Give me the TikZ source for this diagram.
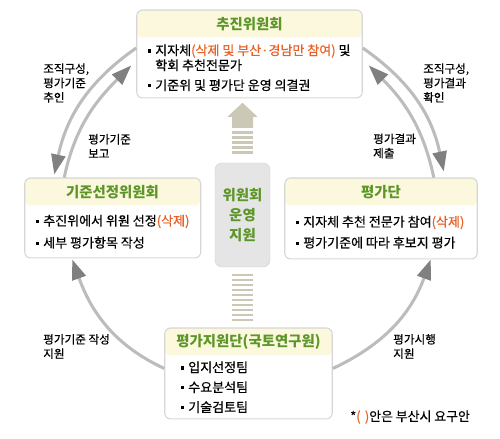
\documentclass[tikz,border=0pt]{standalone}
\usepackage{fontspec}
\setmainfont{Noto Sans CJK KR}[UprightFeatures={FakeBold=0.5}]
\usepackage{tikz}
\usetikzlibrary{arrows.meta,positioning,fit,calc,backgrounds}
\definecolor{leafgreen}{RGB}{92,150,40}
\definecolor{cutorange}{RGB}{232,98,40}
\definecolor{creamhead}{RGB}{251,248,222}
\definecolor{framegray}{RGB}{214,214,214}
\definecolor{arcgray}{RGB}{188,188,188}
\definecolor{tipgray}{RGB}{128,128,128}
\definecolor{hubgray}{RGB}{229,229,229}
\definecolor{stripetan}{RGB}{203,200,182}
\newcommand{\sq}{\rule[0.2em]{0.26em}{0.26em}\hspace{0.3em}}
\newcommand{\del}[1]{\textcolor{cutorange}{#1}}

\begin{document}
\begin{tikzpicture}[
x=0.03cm,y=0.03cm,
ttl/.style={minimum width=#1,minimum height=0.81cm,inner sep=0pt,font=\fontsize{12.3}{14}\selectfont\bfseries,text=leafgreen},
body/.style={minimum height=#1,inner xsep=0.33cm,inner ysep=0pt,align=left,font=\fontsize{11.1}{12.8}\selectfont},
frame/.style={draw=framegray,line width=0.9pt,rounded corners=5pt,fill=white,inner sep=0pt,
  path picture={\fill[creamhead] (path picture bounding box.north west) rectangle (#1);}},
hub/.style={draw=black!18,fill=hubgray,rounded corners=6pt,minimum width=1.65cm,minimum height=3.12cm,align=center,font=\fontsize{12.3}{17}\selectfont\bfseries,text=leafgreen},
lbl/.style={align=left,inner sep=0pt,anchor=west,font=\fontsize{9.9}{12.3}\selectfont},
arc/.style={arcgray,line width=2.6pt,-{Triangle[length=0.6cm,width=0.42cm,color=tipgray]}},
stripe/.style={fill=stripetan}
]
\useasboundingbox (0,0) rectangle (500,-438);

% four committees
\node[ttl=6.75cm,anchor=north] (hqt) at (249.5,-10) {추진위원회};
\node[body=1.8cm,below right=0pt and 0pt of hqt.south west] (hqb) {\sq 지자체\del{(삭제 및 부산·경남만 참여)} 및\\\hphantom{\sq}학회 추천전문가\\[4.2pt]\sq 기준위 및 평가단 운영 의결권};
\node[ttl=5.25cm,anchor=north] (critt) at (112.5,-178) {기준선정위원회};
\node[body=1.56cm,below right=0pt and 0pt of critt.south west] (critb) {\sq 추진위에서 위원 선정\del{(삭제)}\\[6pt]\sq 세부 평가항목 작성};
\node[ttl=5.76cm,anchor=north] (evalt) at (381,-178) {평가단};
\node[body=1.59cm,below right=0pt and 0pt of evalt.south west] (evalb) {\sq 지자체 추천 전문가 참여\del{(삭제)}\\[5pt]\sq 평가기준에 따라 후보지 평가};
\node[ttl=5.01cm,anchor=north] (suppt) at (248.5,-328) {평가지원단(국토연구원)};
\node[body=1.89cm,inner xsep=0.48cm,below right=0pt and 0pt of suppt.south west] (suppb) {\sq 입지선정팀\\[4.2pt]\sq 수요분석팀\\[4.2pt]\sq 기술검토팀};
\begin{scope}[on background layer]
\node[frame=hqt.south east,fit=(hqt)(hqb)] (hq) {};
\node[frame=critt.south east,fit=(critt)(critb)] (crit) {};
\node[frame=evalt.south east,fit=(evalt)(evalb)] (eval) {};
\node[frame=suppt.south east,fit=(suppt)(suppb)] (supp) {};
\end{scope}

% support in the middle
\node[hub] (hub) at (242.5,-215) {위원회\\운영\\지원};
\fill[stripe] ($(hub.north)+(0,60)$) -- ($(hub.north)+(15,46)$) -- ($(hub.north)+(10.5,46)$) -- ($(hub.north)+(10.5,35)$)
  -- ($(hub.north)+(-10.5,35)$) -- ($(hub.north)+(-10.5,46)$) -- ($(hub.north)+(-15,46)$) -- cycle;
\foreach \i in {0,...,4} \fill[stripe] ($(hub.north)+(-10.5,31.3-5*\i)$) rectangle +(21,-2.5);
\foreach \i in {0,...,9} \fill[stripe] ($(hub.south)+(-10.5,-6.3-5*\i)$) rectangle +(21,-2.5);

% arcs
\draw[arc] ($(hq.west)+(0,6)$) to[out=215,in=78] ($(crit.north west)+(30,3)$);
\draw[arc] ($(crit.north west)+(40,0)$) to[out=78,in=225] ($(hq.west)+(-5,-11.5)$);
\draw[arc] ($(hq.east)+(0,6)$) to[out=-35,in=102] ($(eval.north east)+(-34,6)$);
\draw[arc] ($(eval.north east)+(-44,0)$) to[out=102,in=-45] ($(hq.east)+(6,-11.5)$);
\draw[arc] ($(supp.west)+(0,5)$) to[out=155,in=-70] ($(crit.south west)+(48,-1)$);
\draw[arc] ($(supp.east)+(0,5)$) to[out=25,in=250] ($(eval.south east)+(-47,0)$);

\node[lbl] (l1) at (43,-83) {조직구성,\\평가기준\\추인};
\node[lbl] (l2) at (88,-146) {평가기준\\보고};
\node[lbl] (l3) at (423,-83) {조직구성,\\평가결과\\확인};
\node[lbl] (l4) at (373,-146) {평가결과\\제출};
\node[lbl] (l5) at (43,-346.5) {평가기준 작성\\지원};
\node[lbl] (l6) at (393,-346.5) {평가시행\\지원};
\node[lbl,font=\fontsize{11}{12}\selectfont] (note) at (350,-417) {*\del{(\,\,)}안은 부산시 요구안};
\end{tikzpicture}
\end{document}
